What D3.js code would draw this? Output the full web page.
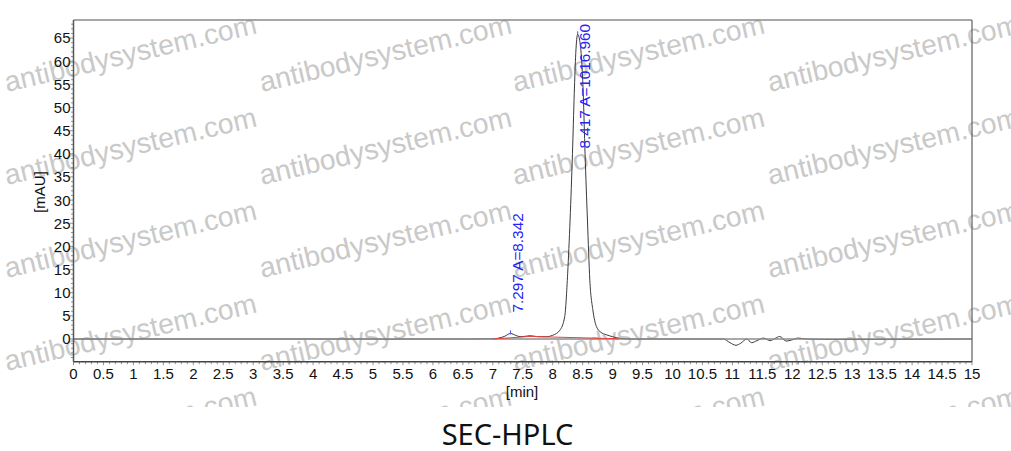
<!DOCTYPE html>
<html><head><meta charset="utf-8">
<script src="https://cdn.jsdelivr.net/npm/d3@7"></script>
<style>
html,body{margin:0;padding:0;background:#fff;}
svg{display:block;}
</style></head>
<body>
<svg id="chart" width="1011" height="451"></svg>
<script>
// ---- data ----
const timeMin = [0, 5.0, 5.3, 5.5, 6.6, 7.0, 7.1, 7.2, 7.297, 7.38, 7.455, 7.55, 7.62, 7.7, 7.76, 7.9, 8.0, 8.12, 8.2, 8.25, 8.29, 8.33, 8.36, 8.385, 8.417, 8.45, 8.475, 8.51, 8.54, 8.58, 8.62, 8.67, 8.73, 8.8, 8.9, 9.0, 9.12, 9.3, 10.85, 10.96, 11.06, 11.14, 11.24, 11.32, 11.41, 11.52, 11.63, 11.71, 11.79, 11.9, 11.99, 12.1, 12.24, 12.68, 15];
const signal_mAU = [0, 0, -0.05, 0, 0, 0.05, 0.2, 0.6, 1.2, 0.8, 0.5, 0.6, 0.7, 0.6, 0.5, 0.5, 0.8, 1.9, 4.8, 14.2, 25.7, 40.1, 53, 61.7, 65.8, 64.5, 61.7, 53, 40.1, 25.7, 12.7, 6.3, 2.7, 1.5, 0.9, 0.5, 0.15, 0, 0, -0.8, -1.35, -0.9, 0, -0.8, -0.35, 0.2, -0.35, 0.1, 0.55, -0.45, -0.2, 0.2, 0, -0.1, 0];
const baselineSegments = [
  {t: [7.0, 7.62], v: [0, 0.55]},
  {t: [7.62, 9.1], v: [0.55, 0.05]}
];
const peakTimes = [7.297, 8.417];
const peakApex = [1.2, 65.8];
const peakLabels = ["7.297 A=8.342", "8.417 A=1016.960"];
const xTickValues = d3.range(0, 15.01, 0.5);
const yTickValues = d3.range(0, 66, 5);
const xLabel = "[min]";
const yLabel = "[mAU]";
const title = "SEC-HPLC";
const watermark = "antibodysystem.com";

// ---- layout ----
const svg = d3.select("#chart");
const L = 73.5, R = 972, T = 20, B = 361.7;
const x = d3.scaleLinear().domain([0, 15]).range([L, R]);
const y = d3.scaleLinear().domain([-4.9, 68.9]).range([B, T]);
const font = "'Liberation Sans', Arial, sans-serif";

// watermark (underneath)
svg.append("clipPath").attr("id", "wmclip").append("rect")
  .attr("x", 0).attr("y", 0).attr("width", 1011).attr("height", 407);
const wm = svg.append("g").attr("clip-path", "url(#wmclip)");
const wmCols = [7, 262, 515, 770];
const wmRows = [92, 185, 278, 371, 464];
wmRows.forEach(ry => wmCols.forEach(cx => {
  wm.append("text").attr("x", 0).attr("y", 0)
    .attr("transform", `translate(${cx},${ry}) rotate(-13.2)`)
    .attr("font-family", font).attr("font-size", 28.3)
    .attr("fill", "#c9c9c9").text(watermark);
}));

// minor ticks
const gx = svg.append("g");
d3.range(0, 150.5, 1).forEach(i => {
  const v = i / 10;
  const major = (i % 5 === 0);
  gx.append("line").attr("x1", x(v)).attr("x2", x(v))
    .attr("y1", B).attr("y2", B + (major ? 3.5 : 2.5))
    .attr("stroke", "#777").attr("stroke-width", 0.8);
});
d3.range(-4, 69, 1).forEach(v => {
  const major = (v % 5 === 0);
  gx.append("line").attr("x1", L).attr("x2", L - (major ? 3.5 : 2.5))
    .attr("y1", y(v)).attr("y2", y(v))
    .attr("stroke", "#777").attr("stroke-width", 0.8);
});

// tick labels
svg.append("g").selectAll("text").data(xTickValues).join("text")
  .attr("x", d => x(d)).attr("y", 379)
  .attr("text-anchor", "middle")
  .attr("font-family", font).attr("font-size", 15).attr("fill", "#111")
  .text(d => d3.format("~g")(d));
svg.append("g").selectAll("text").data(yTickValues).join("text")
  .attr("x", 70.5).attr("y", d => y(d)).attr("dy", "0.36em")
  .attr("text-anchor", "end")
  .attr("font-family", font).attr("font-size", 15).attr("fill", "#111")
  .text(d => d);

// axis titles
svg.append("text").attr("transform", "translate(40,192) rotate(-90)")
  .attr("text-anchor", "middle").attr("dy", "0.36em")
  .attr("font-family", font).attr("font-size", 15).attr("fill", "#111").text(yLabel);
svg.append("text").attr("x", 522).attr("y", 392).attr("dy", "0.36em")
  .attr("text-anchor", "middle")
  .attr("font-family", font).attr("font-size", 15).attr("fill", "#111").text(xLabel);

// signal
const pts = timeMin.map((t, i) => [t, signal_mAU[i]]);
const line = d3.line().x(d => x(d[0])).y(d => y(d[1])).curve(d3.curveMonotoneX);
svg.append("path").datum(pts).attr("d", line)
  .attr("fill", "none").attr("stroke", "#3a3a3a").attr("stroke-width", 1);

// zero line
svg.append("line").attr("x1", L).attr("x2", R).attr("y1", y(0)).attr("y2", y(0))
  .attr("stroke", "#8c8c8c").attr("stroke-width", 1.4);

// integration baselines
baselineSegments.forEach(s => {
  svg.append("line")
    .attr("x1", x(s.t[0])).attr("y1", y(s.v[0]))
    .attr("x2", x(s.t[1])).attr("y2", y(s.v[1]))
    .attr("stroke", "#e8413c").attr("stroke-width", 1);
});

// peak markers & labels
const labelStartY = [y(peakApex[0]) - 21, 148.5];
peakTimes.forEach((t, i) => {
  svg.append("line").attr("x1", x(t)).attr("x2", x(t))
    .attr("y1", y(peakApex[i]) - 3).attr("y2", y(peakApex[i]) + 1)
    .attr("stroke", "#4a4aff").attr("stroke-width", 1);
  svg.append("text")
    .attr("transform", `translate(${x(t) + 12.5},${labelStartY[i]}) rotate(-90)`)
    .attr("font-family", font).attr("font-size", 15.3).attr("fill", "#2323f5")
    .text(peakLabels[i]);
});

// frame
svg.append("line").attr("x1", L).attr("x2", R).attr("y1", T).attr("y2", T)
  .attr("stroke", "#8a8a8a").attr("stroke-width", 1.3);
svg.append("line").attr("x1", R).attr("x2", R).attr("y1", T).attr("y2", B)
  .attr("stroke", "#6a6a6a").attr("stroke-width", 1.3);
svg.append("line").attr("x1", L).attr("x2", L).attr("y1", T).attr("y2", B)
  .attr("stroke", "#555").attr("stroke-width", 1.5);
svg.append("line").attr("x1", L).attr("x2", R).attr("y1", B).attr("y2", B)
  .attr("stroke", "#444").attr("stroke-width", 1.5);

// title
svg.append("text").attr("x", 507.5).attr("y", 445)
  .attr("text-anchor", "middle")
  .attr("font-family", "'Noto Sans', 'Open Sans', sans-serif").attr("font-size", 29)
  .attr("fill", "#111").text(title);
</script>
</body></html>
